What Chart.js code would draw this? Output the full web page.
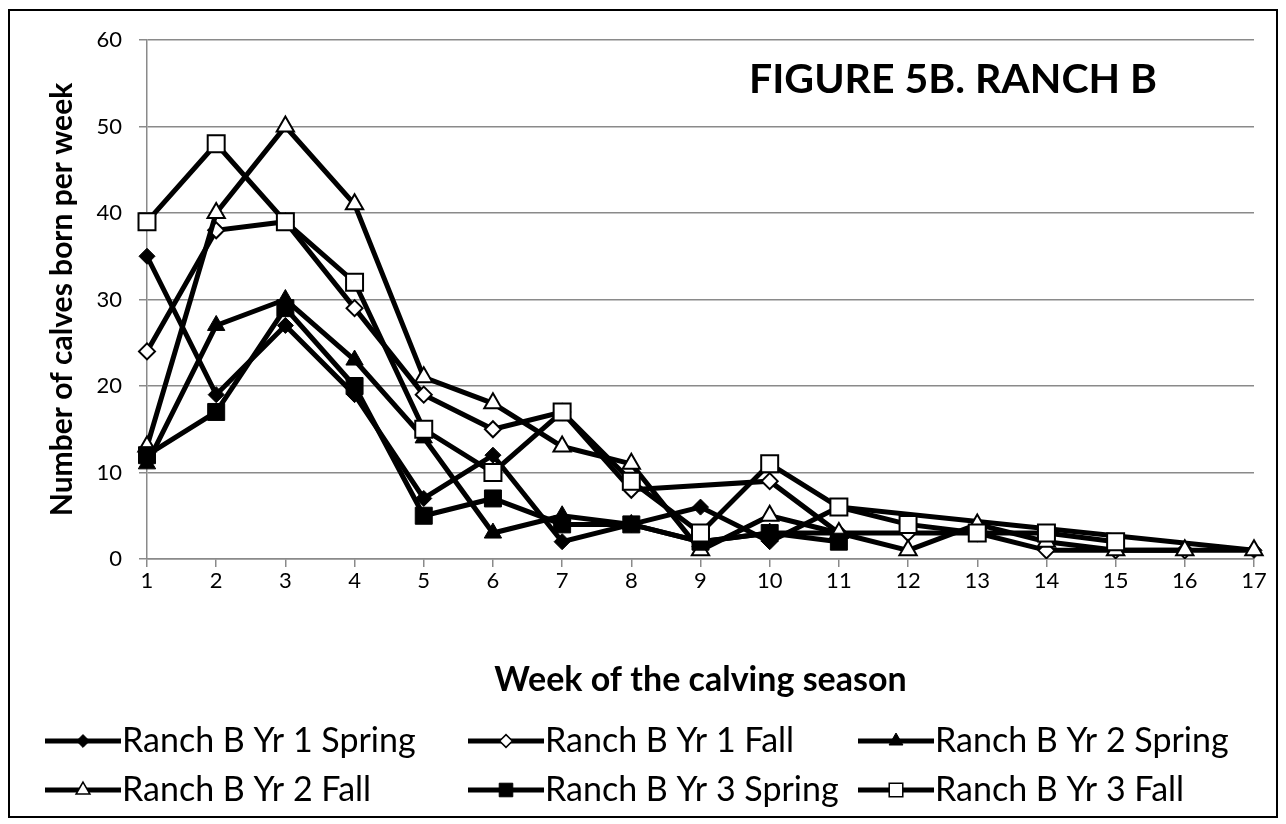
<!DOCTYPE html>
<html lang="en">
<head>
<meta charset="UTF-8">
<title>Figure 5B. Ranch B</title>
<script src="https://cdn.jsdelivr.net/npm/chart.js@4"></script>
<style>
  body { margin: 0; background: #fff; }
  #wrap { width: 1286px; height: 824px; }
</style>
</head>
<body>
<div id="wrap"><canvas id="grafico" width="1286" height="824"></canvas></div>
<script>
// weeks of the calving season (x axis)
const weeks = ['1', '2', '3', '4', '5', '6', '7', '8', '9', '10', '11', '12', '13', '14', '15', '16', '17'];

// calves born per week, one array per series (null = no value that week)
const yr1Spring = [35, 19, 27, 19, 7, 12, 2, 4, 6, 2, 6, null, null, null, null, null, 1];
const yr1Fall   = [24, 38, 39, 29, 19, 15, 17, 8, null, 9, 3, 3, 3, 1, 1, 1, null];
const yr2Spring = [11, 27, 30, 23, 14, 3, 5, 4, 2, 3, 3];
const yr2Fall   = [13, 40, 50, 41, 21, 18, 13, 11, 1, 5, 3, 1, 4, 2, 1, 1, 1];
const yr3Spring = [12, 17, 29, 20, 5, 7, 4, 4, 2, 3, 2];
const yr3Fall   = [39, 48, 39, 32, 15, 10, 17, 9, 3, 11, 6, 4, 3, 3, 2];

const seriesNames = ['Ranch B Yr 1 Spring', 'Ranch B Yr 1 Fall', 'Ranch B Yr 2 Spring',
                     'Ranch B Yr 2 Fall', 'Ranch B Yr 3 Spring', 'Ranch B Yr 3 Fall'];
const seriesData = [yr1Spring, yr1Fall, yr2Spring, yr2Fall, yr3Spring, yr3Fall];

const yMin = 0, yMax = 60, yStep = 10;

// marker look for each series (Excel style: filled / hollow)
const estilos = [
    { forma: 'rectRot', cheio: true,  raio: 8 },
    { forma: 'rectRot', cheio: false, raio: 8 },
    { forma: 'triangle', cheio: true,  raio: 10 },
    { forma: 'triangle', cheio: false, raio: 10 },
    { forma: 'rect', cheio: true,  raio: 12 },
    { forma: 'rect', cheio: false, raio: 12 }
];

const cinza = '#8a8a8a';
const fonte = 'Lato';

const datasets = seriesNames.map((nome, i) => ({
    label: nome,
    data: seriesData[i],
    borderColor: '#000',
    borderWidth: 5,
    tension: 0,
    spanGaps: true,
    pointStyle: estilos[i].forma,
    pointRadius: estilos[i].raio,
    pointBackgroundColor: estilos[i].cheio ? '#000' : '#fff',
    pointBorderColor: '#000',
    pointBorderWidth: estilos[i].cheio ? 1 : 2,
    order: seriesNames.length - i   // later series on top, like Excel
}));

// title inside the plot, legend grid and outer frame
const extras = {
    id: 'extras',
    afterDraw(chart) {
        const ctx = chart.ctx;
        ctx.save();

        ctx.fillStyle = '#000';
        ctx.font = 'bold 41px ' + fonte;
        ctx.textAlign = 'left';
        ctx.textBaseline = 'middle';
        ctx.fillText('FIGURE 5B. RANCH B', 749, 80);

        const colunas = [45, 468, 858];
        const linhas = [741, 790];
        chart.data.datasets.forEach((ds, i) => {
            const x = colunas[i % 3];
            const y = linhas[Math.floor(i / 3)];
            ctx.strokeStyle = '#000';
            ctx.lineWidth = 5;
            ctx.beginPath();
            ctx.moveTo(x, y);
            ctx.lineTo(x + 76, y);
            ctx.stroke();
            ctx.fillStyle = ds.pointBackgroundColor;
            ctx.lineWidth = estilos[i].cheio ? 1 : 1.5;
            Chart.helpers.drawPoint(ctx, {
                pointStyle: ds.pointStyle,
                radius: ds.pointRadius * 0.8,
                rotation: 0,
                borderWidth: ctx.lineWidth
            }, x + 38, y);
            ctx.fillStyle = '#000';
            ctx.font = '34px ' + fonte;
            ctx.fillText(ds.label, x + 77, y);
        });

        ctx.strokeStyle = '#000';
        ctx.lineWidth = 2;
        ctx.strokeRect(9, 10, 1268, 807);
        ctx.restore();
    }
};

new Chart(document.getElementById('grafico'), {
    type: 'line',
    data: { labels: weeks, datasets: datasets },
    options: {
        responsive: false,
        animation: false,
        devicePixelRatio: 1,
        layout: { padding: { left: 0, right: 32, top: 40, bottom: 124 } },
        plugins: {
            legend: { display: false },
            tooltip: { enabled: false }
        },
        scales: {
            x: {
                offset: false,
                afterFit: (s) => { s.height = 141; },
                grid: { display: true, drawOnChartArea: false, drawTicks: true, tickLength: 8, color: cinza, lineWidth: 1.5 },
                border: { display: true, color: cinza, width: 1.5 },
                ticks: { color: '#000', font: { family: fonte, size: 22 }, padding: 1, maxRotation: 0, autoSkip: false },
                title: { display: true, text: 'Week of the calving season', color: '#000',
                         font: { family: fonte, size: 34, weight: 'bold' }, padding: { top: 0, bottom: 0 } }
            },
            y: {
                min: yMin,
                max: yMax,
                afterFit: (s) => { s.width = 147; },
                grid: { color: cinza, lineWidth: 1.5, tickLength: 8 },
                border: { display: true, color: cinza, width: 1.5 },
                ticks: { stepSize: yStep, color: '#000', font: { family: fonte, size: 22 }, padding: 17 },
                title: { display: true, text: 'Number of calves born per week', color: '#000',
                         font: { family: fonte, size: 30, weight: 'bold' }, padding: { top: 44, bottom: 0 } }
            }
        }
    },
    plugins: [extras]
});
</script>
</body>
</html>
